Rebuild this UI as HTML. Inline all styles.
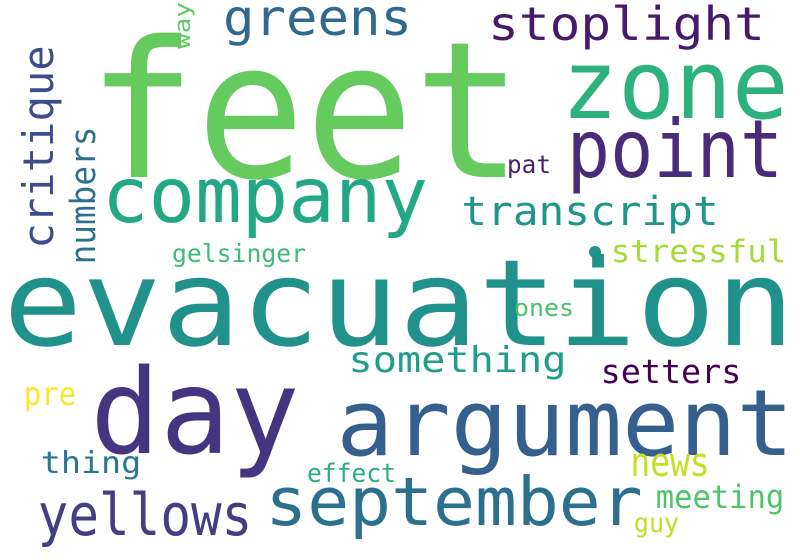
<!DOCTYPE html>
<html><head><meta charset="utf-8"><style>
html,body{margin:0;padding:0;background:#fff;}
svg{display:block;}
text{font-family:"DejaVu Sans Mono","Liberation Mono",monospace;}
</style></head><body>
<svg id="cloud" width="800" height="560" viewBox="0 0 800 560" xmlns="http://www.w3.org/2000/svg">
<rect width="800" height="560" fill="#fff"/>
<circle cx="595" cy="252" r="6" fill="#21918c"/>
</svg>
<script>
// word, ink-left, ink-width, baseline, font-size, color, rotated
const words = ["feet","evacuation","company","zone","point","greens","stoplight","transcript","stressful","gelsinger","pat","ones","something","setters","argument","day","pre","thing","effect","news","meeting","guy","september","yellows"];
const lefts = [95,8,105,565,570,225,490,463,612,173,508,515,350,602,340,95,25,42,308,632,657,635,268,40];
const widths = [420,782,320,220,210,185,273,254,173,132,42,58,215,138,450,200,50,98,87,76,126,43,372,210];
const bases = [177,345,222,118,177,35,40,225,262,262,173,316,372,383,455,453,405,473,482,476,508,532,525,535];
const sizes = [190,120,77,95,80,50,46,40,31,25,25,24,36,33,92,118,32,30,26,40,32,27,67,58];
const colors = ["#65cb5e","#21918c","#22a884","#2db27d","#472c7a","#31688e","#481a6c","#1f968b","#a5db36","#3bbb75","#482173","#4ac16d","#1f9e89","#440154","#355f8d","#453581","#fde725","#2a788e","#2ab07f","#c5e021","#50c46a","#bddf26","#2d708e","#433d84"];
// vertical words: word, baseline-x, start-y (bottom), ink length, font-size, color
const vWords = ["critique","numbers","way"];
const vBase = [53,95,190];
const vStart = [247,263,48];
const vLen = [200,135,45];
const vSizes = [42,35,22];
const vColors = ["#3e4c8a","#2c728e","#5ec962"];

const svg = document.getElementById('cloud');
const NS = 'http://www.w3.org/2000/svg';
words.forEach((w,i)=>{
  const t = document.createElementNS(NS,'text');
  const fs = sizes[i];
  t.setAttribute('x', lefts[i] - 0.04*fs);
  t.setAttribute('y', bases[i]);
  t.setAttribute('font-size', fs);
  t.setAttribute('fill', colors[i]);
  t.setAttribute('textLength', widths[i] + 0.08*fs);
  t.setAttribute('lengthAdjust','spacingAndGlyphs');
  
  
  t.textContent = w;
  svg.appendChild(t);
});
vWords.forEach((w,i)=>{
  const t = document.createElementNS(NS,'text');
  const fs = vSizes[i];
  const x = vBase[i], y = vStart[i] + 0.04*fs;
  t.setAttribute('x', x);
  t.setAttribute('y', y);
  t.setAttribute('transform', 'rotate(-90 ' + x + ' ' + y + ')');
  t.setAttribute('font-size', fs);
  t.setAttribute('fill', vColors[i]);
  t.setAttribute('textLength', vLen[i] + 0.08*fs);
  t.setAttribute('lengthAdjust','spacingAndGlyphs');
  
  
  t.textContent = w;
  svg.appendChild(t);
});
</script>
</body></html>
